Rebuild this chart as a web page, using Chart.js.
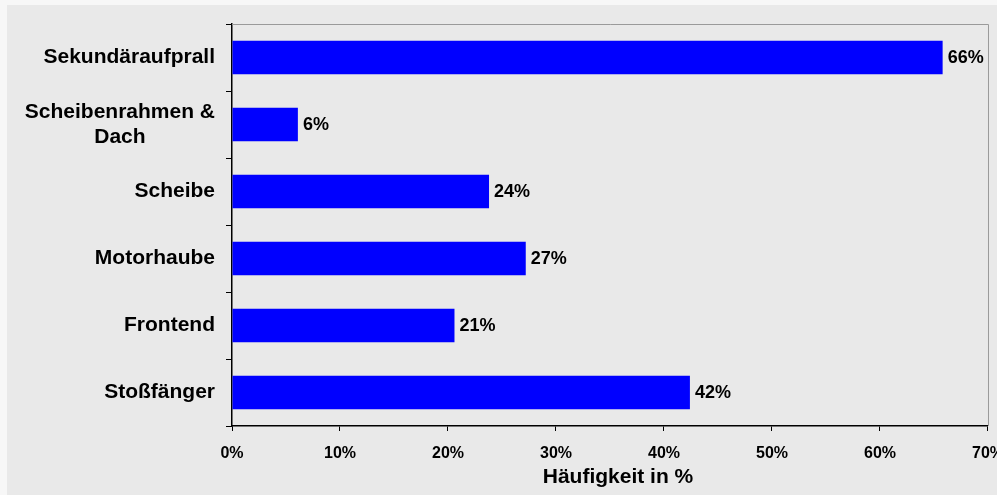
<!DOCTYPE html>
<html><head><meta charset="utf-8">
<script src="https://cdn.jsdelivr.net/npm/chart.js@4.4.1/dist/chart.umd.min.js"></script>
<style>
html,body{margin:0;padding:0;background:#f7f7f7;overflow:hidden;width:997px;height:495px;}
#wrap{position:absolute;left:7px;top:5px;width:1010px;height:490px;background:#e9e9e9;}
</style></head><body>
<div id="wrap"><canvas id="c"></canvas></div>
<script>
const categories = [["Sekundäraufprall"], ["Scheibenrahmen &", "Dach"], ["Scheibe"], ["Motorhaube"], ["Frontend"], ["Stoßfänger"]];
const values = [65.8, 6.1, 23.8, 27.2, 20.6, 42.4];
const valueLabels = ["66%", "6%", "24%", "27%", "21%", "42%"];
const xTickValues = [0, 10, 20, 30, 40, 50, 60, 70];
const xTitle = "Häufigkeit in %";

const FONT = '"Liberation Sans", Arial, sans-serif';

const customDraw = {
  id: 'customDraw',
  afterDraw(chart) {
    const ctx = chart.ctx;
    const ca = chart.chartArea;
    ctx.save();
    // top/right frame
    ctx.strokeStyle = '#9a9a9a';
    ctx.lineWidth = 1;
    ctx.beginPath();
    ctx.moveTo(ca.left, ca.top + 0.5);
    ctx.lineTo(ca.right + 0.5, ca.top + 0.5);
    ctx.lineTo(ca.right + 0.5, ca.bottom);
    ctx.stroke();
    // category labels, centred per label, right edge aligned
    const ys = chart.scales.y;
    ctx.fillStyle = '#000';
    ctx.font = 'bold 21px ' + FONT;
    ctx.textAlign = 'center';
    ctx.textBaseline = 'middle';
    categories.forEach((lines, i) => {
      const yc = ys.getPixelForTick(i);
      const w = Math.max(...lines.map(l => ctx.measureText(l).width));
      const xc = ca.left - 17 - w / 2;
      const lh = 25;
      lines.forEach((l, j) => {
        ctx.fillText(l, xc, yc + (j - (lines.length - 1) / 2) * lh);
      });
    });
    // axis title
    ctx.fillText(xTitle, (ca.left + ca.right) / 2 + 8, ca.bottom + 51);
    // value labels
    const meta = chart.getDatasetMeta(0);
    ctx.font = 'bold 18px ' + FONT;
    ctx.textAlign = 'left';
    meta.data.forEach((bar, i) => {
      ctx.fillText(valueLabels[i], bar.x + 5, bar.y + 1);
    });
    ctx.restore();
  }
};

new Chart(document.getElementById('c'), {
  type: 'bar',
  data: {
    labels: categories,
    datasets: [{
      data: values,
      backgroundColor: '#0000ff',
      borderWidth: 0,
      barPercentage: 0.5,
      categoryPercentage: 1.0
    }]
  },
  options: {
    indexAxis: 'y',
    responsive: true,
    maintainAspectRatio: false,
    animation: false,
    layout: { padding: { top: 19, right: 29, bottom: 0, left: 0 } },
    plugins: { legend: { display: false }, tooltip: { enabled: false } },
    scales: {
      x: {
        min: 0, max: 70,
        afterBuildTicks(scale) { scale.ticks = xTickValues.map(v => ({ value: v })); },
        afterFit(scale) { scale.height = 69; },
        ticks: {
          color: '#000',
          font: { family: FONT, size: 16, weight: 'bold' },
          padding: 13,
          maxRotation: 0,
          callback: v => v + '%'
        },
        grid: { drawOnChartArea: false, drawTicks: true, tickLength: 5, color: '#000', lineWidth: 1 },
        border: { color: '#000', width: 1.5 }
      },
      y: {
        afterFit(scale) { scale.width = 225; },
        ticks: {
          color: 'rgba(0,0,0,0)',
          font: { family: FONT, size: 21, weight: 'bold' }
        },
        grid: { drawOnChartArea: false, drawTicks: true, tickLength: 6, color: '#000', lineWidth: 1, offset: true },
        border: { color: '#000', width: 1.5 }
      }
    }
  },
  plugins: [customDraw]
});
</script>
</body></html>
